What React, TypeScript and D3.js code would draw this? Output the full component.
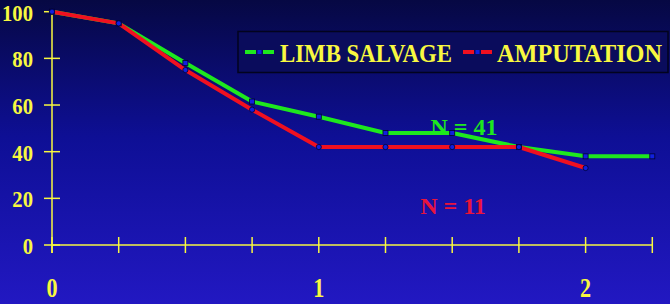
import React from "react";
import * as d3 from "d3";

const xTicks = [0, 0.25, 0.5, 0.75, 1, 1.25, 1.5, 1.75, 2, 2.25];
const xLabels = [0, 1, 2];
const yTicks = [0, 20, 40, 60, 80, 100];
const limbX = [0, 0.25, 0.5, 0.75, 1, 1.25, 1.5, 1.75, 2, 2.25];
const limbY = [100, 95, 78, 61.5, 55, 48, 48, 42, 38, 38];
const ampX = [0, 0.25, 0.5, 0.75, 1, 1.25, 1.5, 1.75, 2];
const ampY = [100, 95, 75, 58, 42, 42, 42, 42, 33];
const seriesNames = ["LIMB SALVAGE", "AMPUTATION"];
const annotations = [
  { text: "N = 41", x: 1.544, y: 47.1 },
  { text: "N = 11", x: 1.503, y: 13.3 },
];

const W = 670, H = 304;
const FONT = "'Liberation Serif', 'Times New Roman', serif";
const YELLOW = "#f8f840";
const GREEN = "#1ee81e";
const RED = "#f01020";
const CRIMSON = "#e8143c";

export default function App() {
  const x = d3.scaleLinear().domain([0, 2.25]).range([52, 652.3]);
  const y = d3.scaleLinear().domain([0, 100]).range([245, 11.7]);
  const line = d3.line<[number, number]>().x(d => x(d[0])).y(d => y(d[1]));
  const limb: [number, number][] = limbX.map((v, i) => [v, limbY[i]]);
  const amp: [number, number][] = ampX.map((v, i) => [v, ampY[i]]);
  return (
    <svg width={W} height={H} style={{ position: "fixed", left: 0, top: 0, display: "block" }}>
      <defs>
        <linearGradient id="bg" x1="0" y1="0" x2="0" y2="1">
          <stop offset="0" stopColor="#060843" />
          <stop offset="0.45" stopColor="#0e0f95" />
          <stop offset="1" stopColor="#2218c2" />
        </linearGradient>
      </defs>
      <rect x={0} y={0} width={W} height={H} fill="url(#bg)" />
      {/* axes */}
      <line x1={x(0)} x2={x(2.25)} y1={y(0)} y2={y(0)} stroke={YELLOW} strokeWidth={1.5} />
      <line x1={x(0)} x2={x(0)} y1={y(100)} y2={y(0) + 8} stroke={YELLOW} strokeWidth={1.5} />
      {xTicks.map(t => (
        <line key={"xt" + t} x1={x(t)} x2={x(t)} y1={y(0) - 8} y2={y(0) + 8} stroke={YELLOW} strokeWidth={1.5} />
      ))}
      {yTicks.map(t => (
        <line key={"yt" + t} x1={x(0) - 8} x2={x(0) + 8} y1={y(t)} y2={y(t)} stroke={YELLOW} strokeWidth={1.5} />
      ))}
      {yTicks.map(t => (
        <text key={"yl" + t} transform={`translate(33,${y(t) + 9}) scale(0.86,1)`} textAnchor="end" fontFamily={FONT} fontWeight="bold" fontSize={24} fill={YELLOW}>{t}</text>
      ))}
      {xLabels.map(t => (
        <text key={"xl" + t} transform={`translate(${x(t)},297) scale(0.82,1)`} textAnchor="middle" fontFamily={FONT} fontWeight="bold" fontSize={27} fill={YELLOW}>{t}</text>
      ))}
      {/* lines */}
      <path d={line(limb) || ""} fill="none" stroke={GREEN} strokeWidth={4} strokeLinejoin="round" />
      <path d={line(amp) || ""} fill="none" stroke={RED} strokeWidth={4} strokeLinejoin="round" />
      {limb.map((d, i) => (
        <rect key={"lm" + i} x={x(d[0]) - 2.5} y={y(d[1]) - 2.5} width={5} height={5} fill="#1020e0" stroke="#000030" strokeWidth={0.8} />
      ))}
      {amp.map((d, i) => (
        <circle key={"am" + i} cx={x(d[0])} cy={y(d[1])} r={2.6} fill="#1020e0" stroke="#000030" strokeWidth={0.8} />
      ))}
      {/* annotations */}
      <text x={x(annotations[0].x)} y={y(annotations[0].y)} textAnchor="middle" fontFamily={FONT} fontWeight="bold" fontSize={24} fill={GREEN}>{annotations[0].text}</text>
      <text x={x(annotations[1].x)} y={y(annotations[1].y)} textAnchor="middle" fontFamily={FONT} fontWeight="bold" fontSize={24} fill={CRIMSON}>{annotations[1].text}</text>
      {/* legend */}
      <rect x={238} y={31.5} width={430} height={41} fill="#0a0c5c" stroke="#02031e" strokeWidth={1.5} />
      <line x1={245} x2={274} y1={52} y2={52} stroke={GREEN} strokeWidth={4} strokeDasharray="11 7" />
      <rect x={257.5} y={50} width={4} height={4} fill="#1020e0" />
      <text x={280} y={62} fontFamily={FONT} fontWeight="bold" fontSize={25} fill={YELLOW} textLength={172} lengthAdjust="spacingAndGlyphs">{seriesNames[0]}</text>
      <line x1={463} x2={492} y1={52} y2={52} stroke={RED} strokeWidth={4} strokeDasharray="11 7" />
      <rect x={475.5} y={50} width={4} height={4} fill="#1020e0" />
      <text x={497} y={62} fontFamily={FONT} fontWeight="bold" fontSize={25} fill={YELLOW} textLength={165} lengthAdjust="spacingAndGlyphs">{seriesNames[1]}</text>
    </svg>
  );
}
